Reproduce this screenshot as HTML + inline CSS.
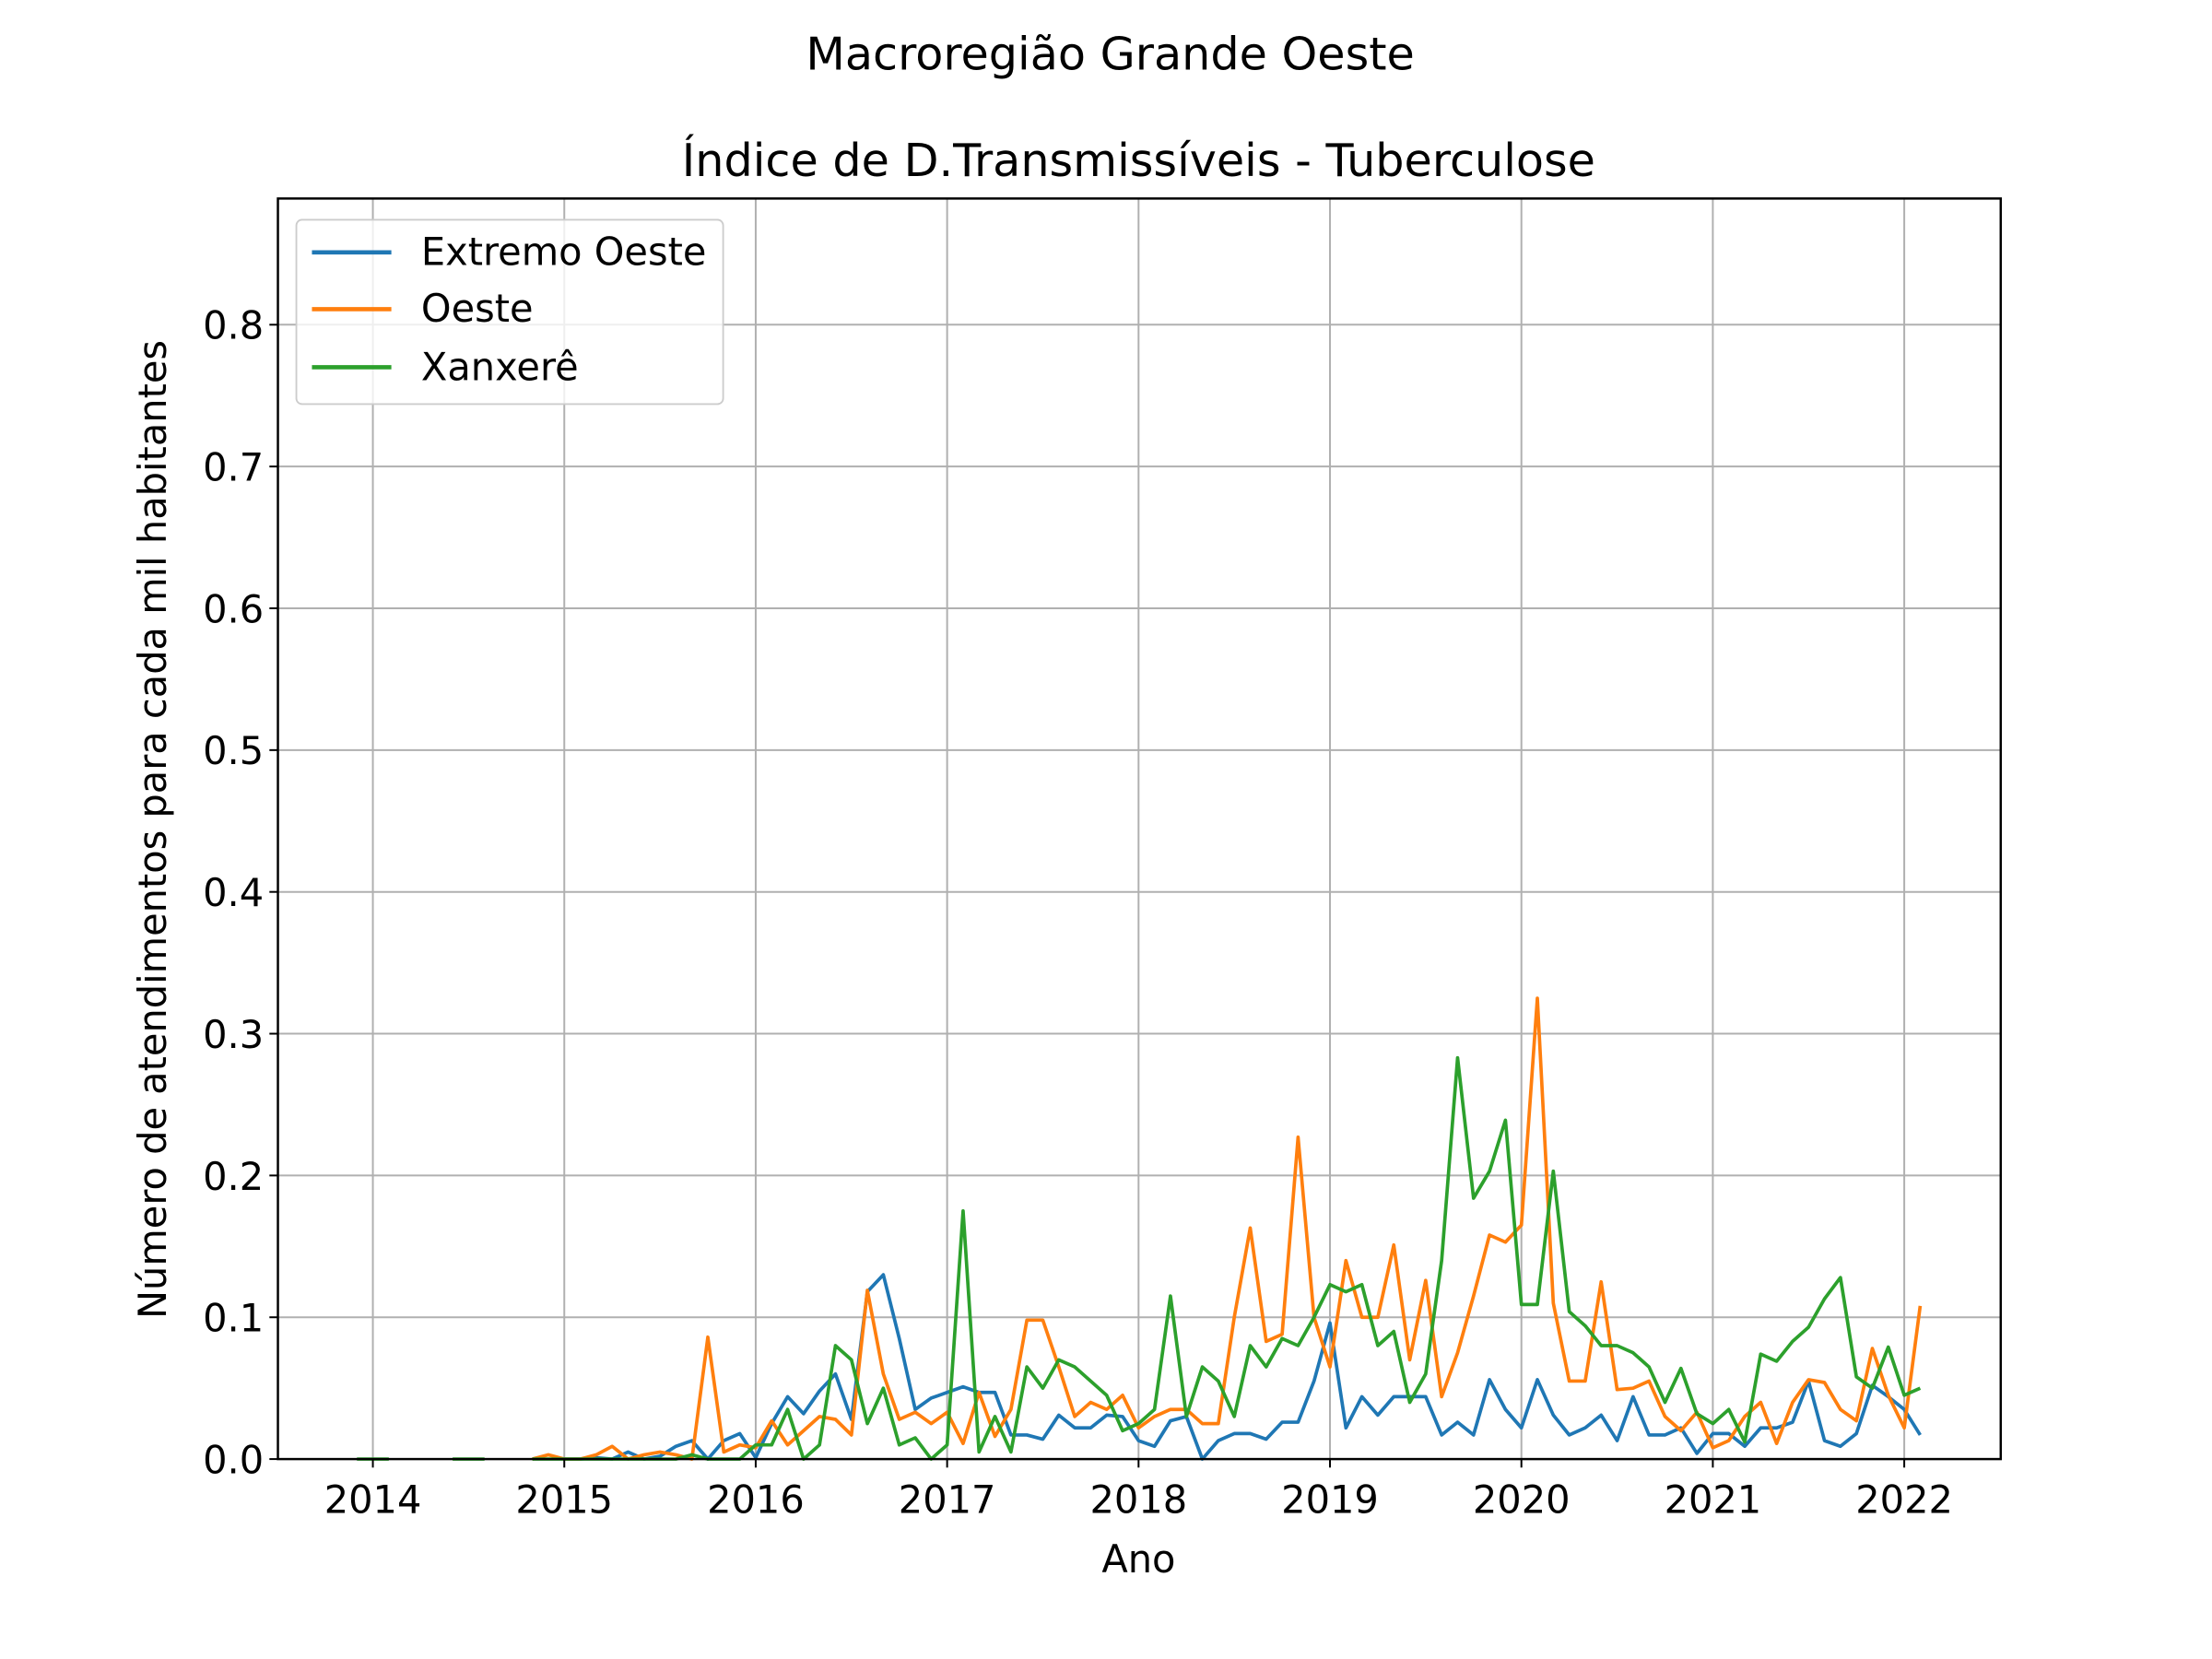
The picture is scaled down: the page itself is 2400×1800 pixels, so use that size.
<!DOCTYPE html>
<html><head><meta charset="utf-8"><style>
html,body{margin:0;padding:0;background:#fff;}
svg{display:block;font-family:"DejaVu Sans","Liberation Sans",sans-serif;}
</style></head><body>
<svg id="chart" width="2400" height="1800" viewBox="0 0 1560 1170" xmlns="http://www.w3.org/2000/svg">
<rect width="1560" height="1170" fill="#fff"/>
<text x="783" y="49" font-size="32" text-anchor="middle">Macroregião Grande Oeste</text>
<text x="803" y="124" font-size="32" text-anchor="middle">Índice de D.Transmissíveis - Tuberculose</text>
<g id="grid"></g>
<g id="series"></g>
<rect x="196" y="140" width="1215" height="889" fill="none" stroke="#000" stroke-width="1.6"/>
<g id="ticks"></g>
<text x="803" y="1109" font-size="27" text-anchor="middle">Ano</text>
<text transform="translate(117,585) rotate(-90)" font-size="27" text-anchor="middle">Número de atendimentos para cada mil habitantes</text>
<g>
<rect x="209" y="155" width="301" height="130" rx="4" fill="#fff" fill-opacity="0.8" stroke="#ccc" stroke-width="1.2"/>
<line x1="220" y1="178" x2="276" y2="178" stroke="#1f77b4" stroke-width="3"/>
<text x="297" y="187" font-size="27">Extremo Oeste</text>
<line x1="220" y1="218" x2="276" y2="218" stroke="#ff7f0e" stroke-width="3"/>
<text x="297" y="227" font-size="27">Oeste</text>
<line x1="220" y1="259" x2="276" y2="259" stroke="#2ca02c" stroke-width="3"/>
<text x="297" y="268" font-size="27">Xanxerê</text>
</g>
</svg>
<script>
// monthly data starting 2013-12 (index 0)
const startYear = 2013, startMonth = 12;
const xTicks = [2014,2015,2016,2017,2018,2019,2020,2021,2022];
const yTicks = [0,0.1,0.2,0.3,0.4,0.5,0.6,0.7,0.8];
const yTickLabels = ["0.0","0.1","0.2","0.3","0.4","0.5","0.6","0.7","0.8"];
const N=null;
const extremoOeste = [N,N,N,N,N,N,N,N,N,N,N,N,N,0,0,0.001,0,0.005,0,0.002,0.009,0.013,0,0.013,0.018,0.001,0.025,0.044,0.032,0.048,0.06,0.028,0.118,0.13,0.085,0.035,0.043,0.047,0.051,0.047,0.047,0.017,0.017,0.014,0.031,0.022,0.022,0.031,0.03,0.013,0.009,0.027,0.03,0,0.013,0.018,0.018,0.014,0.026,0.026,0.055,0.096,0.022,0.044,0.031,0.044,0.044,0.044,0.017,0.026,0.017,0.056,0.035,0.022,0.056,0.031,0.017,0.022,0.031,0.013,0.044,0.017,0.017,0.022,0.004,0.018,0.018,0.009,0.022,0.022,0.026,0.055,0.013,0.009,0.018,0.052,0.044,0.035,0.017];
const oeste = [N,N,N,N,N,N,N,N,N,N,N,0,0.003,0,0,0.003,0.009,0,0.003,0.005,0.003,0,0.086,0.005,0.01,0.008,0.027,0.01,0.02,0.03,0.028,0.017,0.119,0.06,0.028,0.033,0.025,0.033,0.011,0.047,0.016,0.035,0.098,0.098,0.065,0.03,0.04,0.035,0.045,0.022,0.03,0.035,0.035,0.025,0.025,0.1,0.163,0.083,0.088,0.227,0.1,0.065,0.14,0.1,0.1,0.151,0.07,0.126,0.044,0.075,0.115,0.158,0.153,0.165,0.325,0.11,0.055,0.055,0.125,0.049,0.05,0.055,0.03,0.02,0.033,0.008,0.013,0.03,0.04,0.011,0.04,0.056,0.054,0.035,0.027,0.078,0.045,0.022,0.108];
const xanxere = [0,0,0,N,N,N,0,0,0,N,N,0,0,0,0,0,0,0,0,0,0,0.003,0,0,0,0.01,0.01,0.035,0,0.01,0.08,0.07,0.025,0.05,0.01,0.015,0,0.01,0.175,0.005,0.03,0.005,0.065,0.05,0.07,0.065,0.055,0.045,0.02,0.025,0.035,0.115,0.03,0.065,0.055,0.03,0.08,0.065,0.085,0.08,0.1,0.123,0.118,0.123,0.08,0.09,0.04,0.06,0.14,0.283,0.184,0.203,0.239,0.109,0.109,0.203,0.104,0.094,0.08,0.08,0.075,0.065,0.04,0.064,0.032,0.025,0.035,0.012,0.074,0.069,0.083,0.093,0.113,0.128,0.058,0.05,0.079,0.045,0.05];

const L=196,R=1411,T=140,B=1029, X0=2013.504, X1=2022.504, Y0=0, Y1=0.889;
const xs = t => L + (t-X0)/(X1-X0)*(R-L);
const ys = v => B - (v-Y0)/(Y1-Y0)*(B-T);
const tOf = i => startYear + (startMonth-1+i)/12;
const NS="http://www.w3.org/2000/svg";
function mk(tag, attrs, parent){const e=document.createElementNS(NS,tag);for(const k in attrs)e.setAttribute(k,attrs[k]);parent.appendChild(e);return e;}
const grid=document.getElementById('grid'), ticks=document.getElementById('ticks'), series=document.getElementById('series');
xTicks.forEach(y=>{
  const x=xs(y);
  const g=mk('line',{x1:x,x2:x,y1:T,y2:B,stroke:'#b0b0b0','stroke-width':1.3},grid);
  
  
  mk('line',{x1:x,x2:x,y1:B,y2:B+6,stroke:'#000','stroke-width':1.3},ticks);
  const t=mk('text',{x:x,y:B+38,'font-size':27,'text-anchor':'middle'},ticks);
  t.textContent=y;
  
  
});
yTicks.forEach((v,i)=>{
  const y=ys(v);
  const g=mk('line',{x1:L,x2:R,y1:y,y2:y,stroke:'#b0b0b0','stroke-width':1.3},grid);
  
  
  mk('line',{x1:L-6,x2:L,y1:y,y2:y,stroke:'#000','stroke-width':1.3},ticks);
  const t=mk('text',{x:L-10,y:y+10,'font-size':27,'text-anchor':'end'},ticks);
  t.textContent=yTickLabels[i];
  
  
});
function draw(data,color,name){
  let d='',pen=false;
  data.forEach((v,i)=>{
    if(v===null){pen=false;return;}
    d+=(pen?'L':'M')+xs(tOf(i)).toFixed(2)+','+ys(v).toFixed(2);
    pen=true;
  });
  const p=mk('path',{d:d,fill:'none',stroke:color,'stroke-width':2.4,'stroke-linejoin':'round'},series);
  
  
}
draw(extremoOeste,'#1f77b4','line-extremo-oeste');
draw(oeste,'#ff7f0e','line-oeste');
draw(xanxere,'#2ca02c','line-xanxere');
</script>
</body></html>
